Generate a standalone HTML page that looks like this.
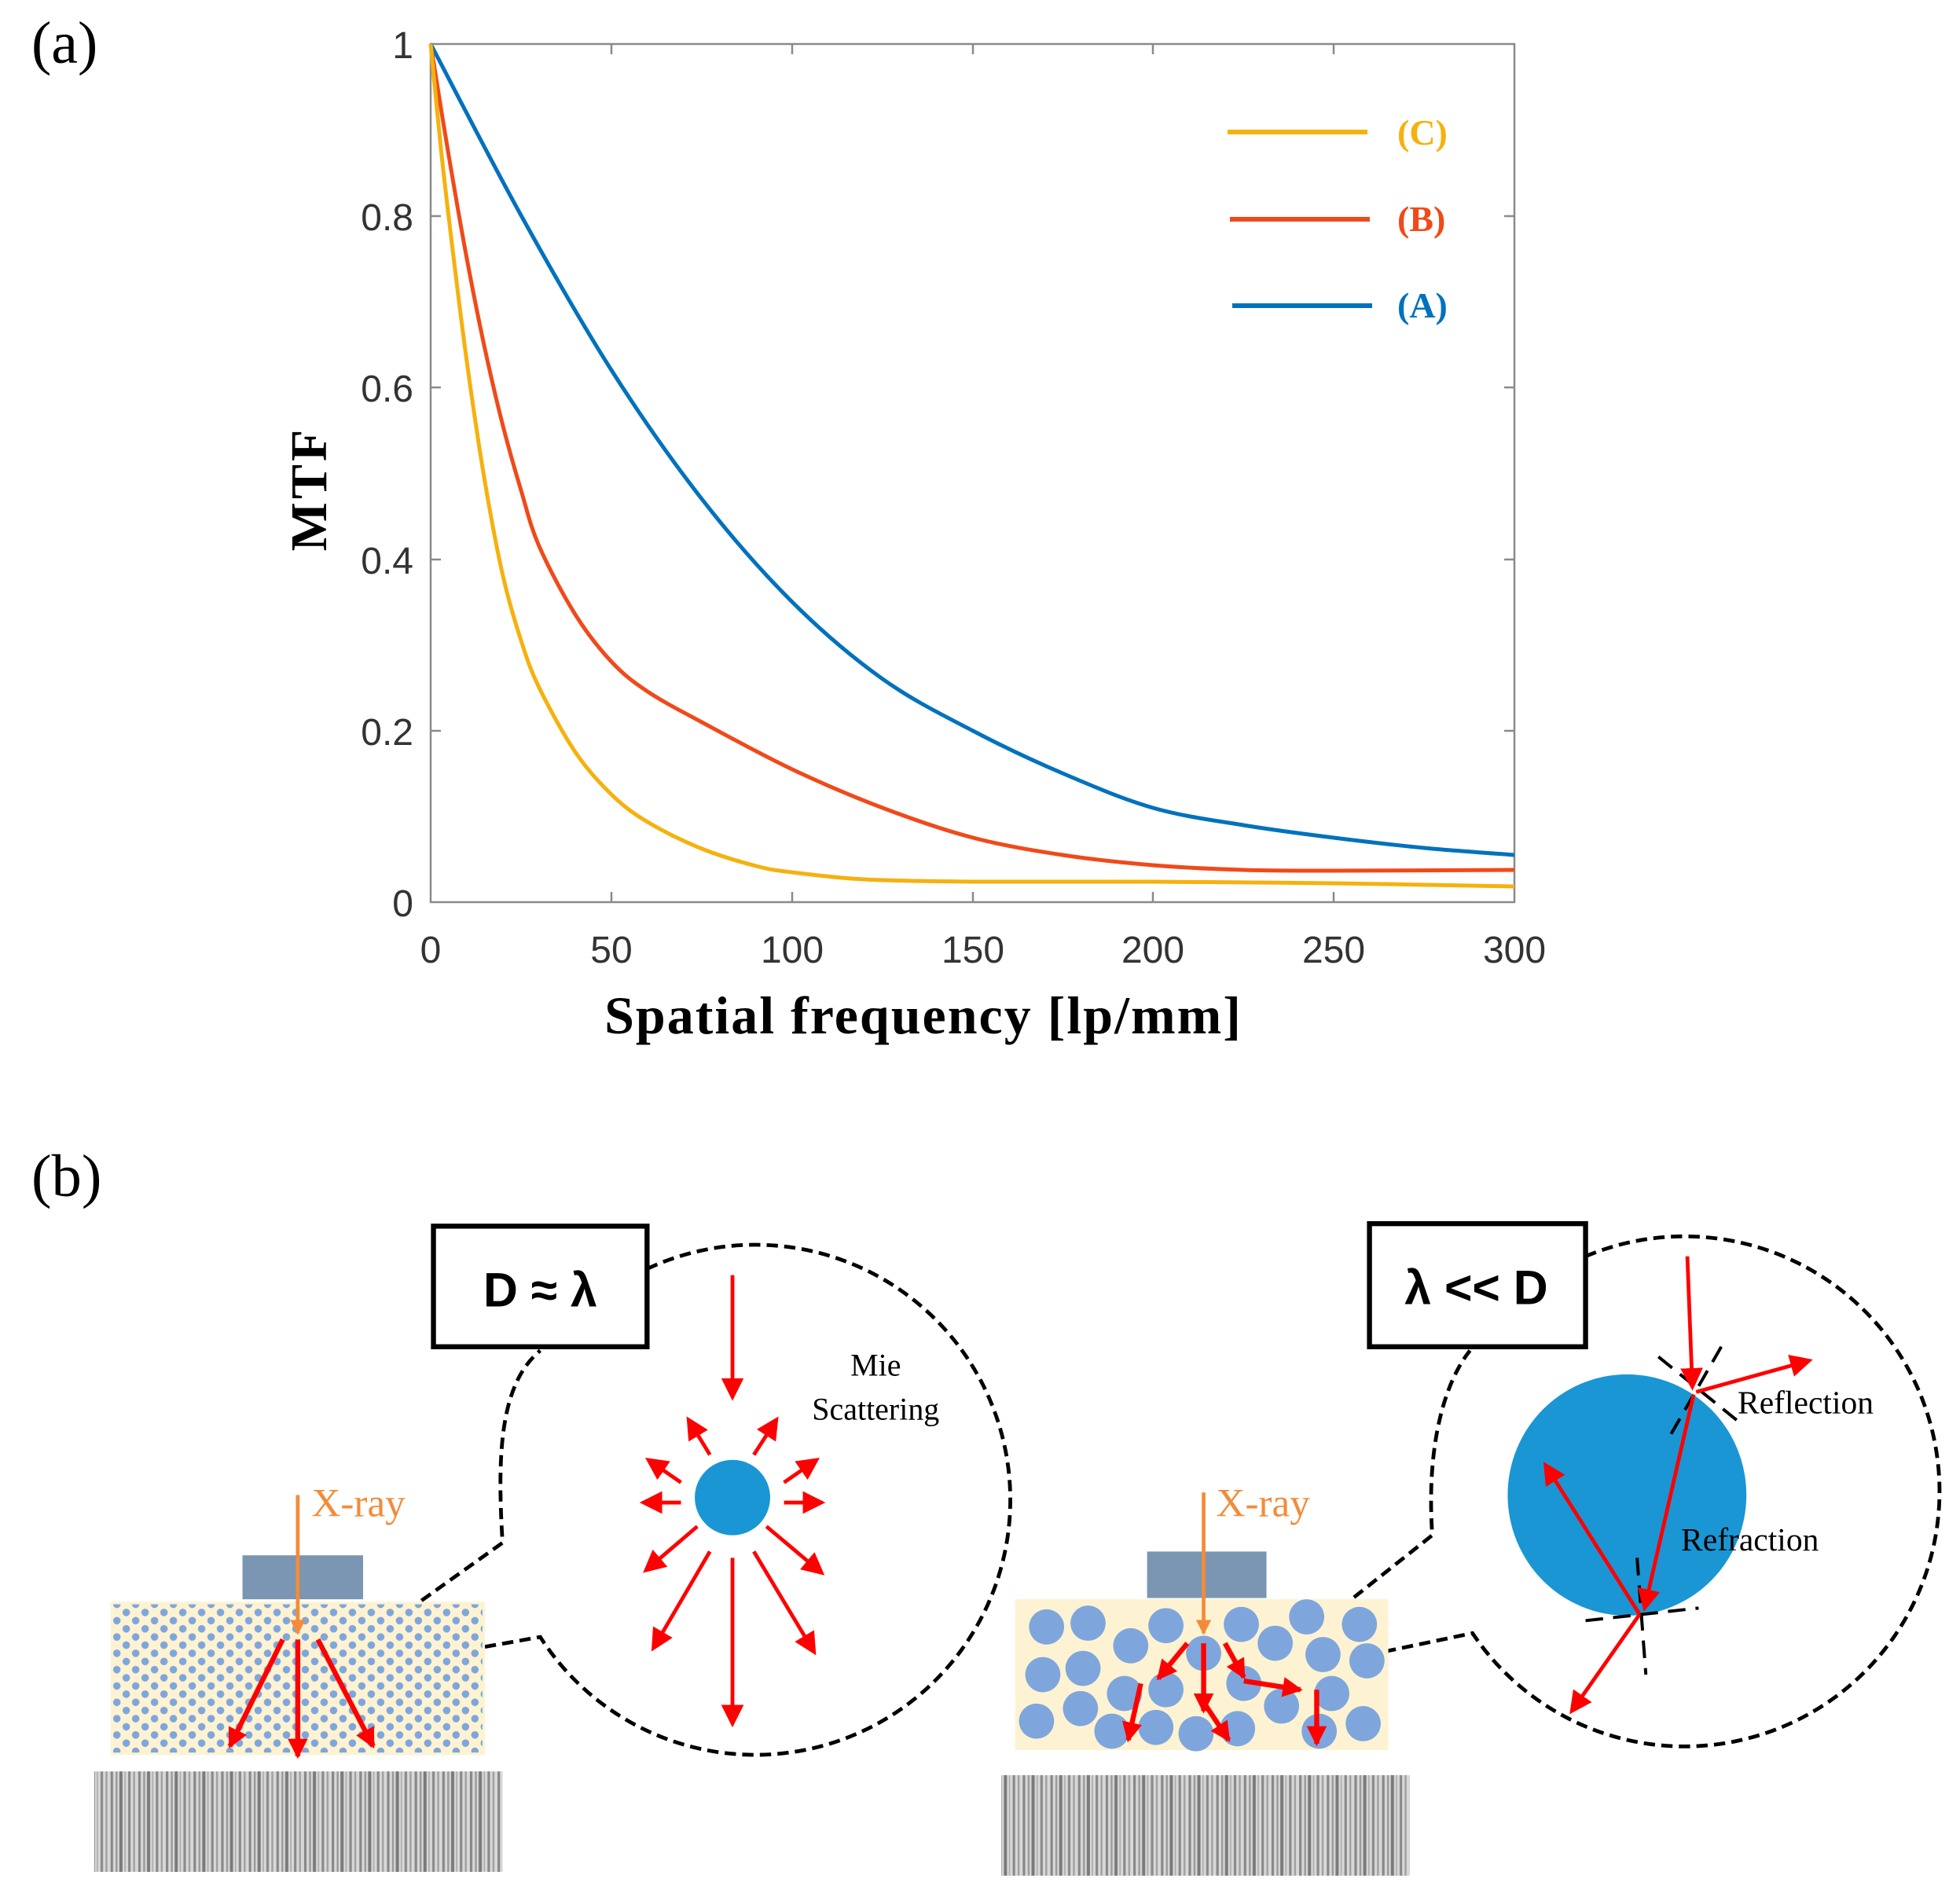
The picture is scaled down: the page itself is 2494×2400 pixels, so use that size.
<!DOCTYPE html>
<html><head><meta charset="utf-8"><style>html,body{margin:0;padding:0;background:#fff}svg{display:block}</style></head>
<body>
<svg id="s" width="2494" height="2400" viewBox="0 0 2494 2400" xmlns="http://www.w3.org/2000/svg">
<defs>
<marker id="ar" markerWidth="6" markerHeight="6" refX="5" refY="3" orient="auto" markerUnits="strokeWidth"><path d="M0,0 L6,3 L0,6 z" fill="#f00"/></marker>
<marker id="ar2" markerWidth="4" markerHeight="4" refX="3.5" refY="2" orient="auto" markerUnits="strokeWidth"><path d="M0,0 L4,2 L0,4 z" fill="#f00"/></marker>
<marker id="ao" markerWidth="4" markerHeight="4" refX="3.5" refY="2" orient="auto" markerUnits="strokeWidth"><path d="M0,0 L4,2 L0,4 z" fill="#f28c3a"/></marker>
<pattern id="dots" width="15" height="13" patternUnits="userSpaceOnUse"><circle cx="3" cy="3" r="3" fill="#7fa6dc"/><circle cx="10.5" cy="9.5" r="3" fill="#7fa6dc"/></pattern>
<pattern id="bars" width="22" height="10" patternUnits="userSpaceOnUse"><rect width="22" height="10" fill="#d8d8d8"/><rect x="0" width="2" height="10" fill="#888"/><rect x="4" width="1.5" height="10" fill="#999"/><rect x="7" width="2.5" height="10" fill="#7a7a7a"/><rect x="11" width="1" height="10" fill="#aaa"/><rect x="14" width="2" height="10" fill="#8a8a8a"/><rect x="18" width="1.5" height="10" fill="#a0a0a0"/></pattern>
</defs>

<text x="40" y="80" font-family="Liberation Serif, serif" font-size="76">(a)</text>
<rect x="548" y="56" width="1379" height="1092" fill="none" stroke="#8a8a8a" stroke-width="2.5"/>
<g stroke="#8a8a8a" stroke-width="2.5">
<path d="M778,1148v-13M1008,1148v-13M1238,1148v-13M1467,1148v-13M1697,1148v-13M778,56v13M1008,56v13M1238,56v13M1467,56v13M1697,56v13"/>
<path d="M548,930h13M548,712h13M548,493h13M548,275h13M1927,930h-13M1927,712h-13M1927,493h-13M1927,275h-13"/>
</g>
<g font-family="Liberation Sans, sans-serif" font-size="48" fill="#333" text-anchor="end">
<text x="526" y="1166">0</text><text x="526" y="948">0.2</text><text x="526" y="730">0.4</text><text x="526" y="511">0.6</text><text x="526" y="293">0.8</text><text x="526" y="74">1</text>
</g>
<g font-family="Liberation Sans, sans-serif" font-size="48" fill="#333" text-anchor="middle">
<text x="548" y="1225">0</text><text x="778" y="1225">50</text><text x="1008" y="1225">100</text><text x="1238" y="1225">150</text><text x="1467" y="1225">200</text><text x="1697" y="1225">250</text><text x="1927" y="1225">300</text>
</g>
<text x="1175" y="1315" font-family="Liberation Serif, serif" font-weight="bold" font-size="68" text-anchor="middle" letter-spacing="2">Spatial frequency [lp/mm]</text>
<text transform="translate(415,622) rotate(-90)" font-family="Liberation Serif, serif" font-weight="bold" font-size="66" text-anchor="middle" letter-spacing="4">MTF</text>
<g fill="none" stroke-width="5" stroke-linejoin="round" class="cv">
<polyline stroke="#0072bd" points="548,56 663,274 778,471 893,635 1008,766 1123,864 1238,930 1352,984 1467,1028 1582,1050 1697,1066 1812,1079 1927,1088"/>
<polyline stroke="#f04a1a" points="548,56 571,198 594,329 617,444 640,542 663,624 686,695 732,782 778,842 824,880 893,919 1008,979 1123,1028 1238,1066 1352,1088 1467,1101 1582,1107 1697,1108 1927,1107"/>
<polyline stroke="#f5b10e" points="548,56 562,198 576,318 594,460 617,613 640,733 663,815 686,875 732,957 778,1011 824,1046 893,1080 962,1102 1008,1110 1100,1119 1238,1122 1467,1122 1697,1124 1927,1128"/>
</g>
<g stroke-width="6"><line x1="1562" y1="168" x2="1740" y2="168" stroke="#f5b10e"/><line x1="1565" y1="279" x2="1743" y2="279" stroke="#f04a1a"/><line x1="1568" y1="389" x2="1746" y2="389" stroke="#0072bd"/></g>
<g font-family="Liberation Serif, serif" font-size="46" font-weight="bold">
<text x="1778" y="184" fill="#f5b10e">(C)</text><text x="1778" y="294" fill="#f04a1a">(B)</text><text x="1778" y="404" fill="#0072bd">(A)</text>
</g>

<g transform="scale(1.5987)">
<text x="25" y="952" font-family="Liberation Serif, serif" font-size="48">(b)</text>
<path d="M515,1010 A203,203 0 1 1 430,1303 L250,1335 L400,1228 C395,1150 400,1100 430,1075" fill="none" stroke="#000" stroke-width="3" stroke-dasharray="9,5"/>
<rect x="345" y="976" width="170" height="96" fill="#fff" stroke="#000" stroke-width="4"/>
<text x="430" y="1040" font-family="Liberation Sans, sans-serif" font-size="38" font-weight="bold" text-anchor="middle">D ≈ λ</text>
<circle cx="583" cy="1192" r="30" fill="#1a96d4"/>
<g stroke="#f00" stroke-width="3" marker-end="url(#ar)">
<line x1="583" y1="1015" x2="583" y2="1112"/>
<line x1="565" y1="1158" x2="548" y2="1130"/><line x1="600" y1="1158" x2="618" y2="1130"/>
<line x1="542" y1="1180" x2="516" y2="1162"/><line x1="624" y1="1180" x2="650" y2="1162"/>
<line x1="542" y1="1196" x2="512" y2="1196"/><line x1="624" y1="1196" x2="654" y2="1196"/>
<line x1="555" y1="1215" x2="514" y2="1250"/><line x1="610" y1="1215" x2="654" y2="1252"/>
<line x1="565" y1="1235" x2="520" y2="1312"/><line x1="600" y1="1235" x2="648" y2="1315"/>
<line x1="583" y1="1240" x2="583" y2="1372"/>
</g>
<g font-family="Liberation Serif, serif" font-size="25" text-anchor="middle"><text x="697" y="1095">Mie</text><text x="697" y="1130">Scattering</text></g>
<rect x="193" y="1238" width="96" height="35" fill="#7b96b2"/>
<rect x="88" y="1275" width="298" height="122" fill="#fdf3d2"/>
<rect x="90" y="1277" width="294" height="118" fill="url(#dots)"/>
<line x1="237" y1="1190" x2="237" y2="1300" stroke="#f28c3a" stroke-width="3" marker-end="url(#ao)"/>
<text x="248" y="1207" font-family="Liberation Serif, serif" font-size="32" fill="#f28c3a">X-ray</text>
<g stroke="#f00" stroke-width="4" marker-end="url(#ar2)">
<line x1="225" y1="1305" x2="183" y2="1390"/><line x1="237" y1="1305" x2="237" y2="1398"/><line x1="253" y1="1305" x2="297" y2="1390"/>
</g>
<rect x="75" y="1410" width="325" height="80" fill="url(#bars)"/>
<path d="M1262,1000 A203,203 0 1 1 1172,1300 L995,1337 L1140,1222 C1135,1150 1150,1100 1170,1075" fill="none" stroke="#000" stroke-width="3" stroke-dasharray="9,5"/>
<rect x="1090" y="974" width="172" height="98" fill="#fff" stroke="#000" stroke-width="4"/>
<text x="1175" y="1038" font-family="Liberation Sans, sans-serif" font-size="38" font-weight="bold" text-anchor="middle">λ &lt;&lt; D</text>
<ellipse cx="1295" cy="1190" rx="95" ry="96" fill="#1a96d4"/>
<g stroke="#000" stroke-width="2.5" stroke-dasharray="14,8"><line x1="1320" y1="1080" x2="1388" y2="1135"/><line x1="1370" y1="1072" x2="1328" y2="1145"/><line x1="1262" y1="1290" x2="1352" y2="1280"/><line x1="1303" y1="1240" x2="1310" y2="1333"/></g>
<g stroke="#f00" stroke-width="3" marker-end="url(#ar)">
<line x1="1343" y1="1000" x2="1347" y2="1104"/><line x1="1350" y1="1108" x2="1440" y2="1083"/><line x1="1348" y1="1110" x2="1309" y2="1280"/><line x1="1305" y1="1285" x2="1230" y2="1166"/><line x1="1305" y1="1285" x2="1251" y2="1362"/>
</g>
<g font-family="Liberation Serif, serif" font-size="26"><text x="1383" y="1125">Reflection</text><text x="1338" y="1234">Refraction</text></g>
<rect x="913" y="1235" width="95" height="37" fill="#7b96b2"/>
<rect x="808" y="1273" width="297" height="120" fill="#fdf3d2"/>
<g fill="#7fa6dc">
<circle cx="833" cy="1295" r="14"/><circle cx="866" cy="1292" r="14"/><circle cx="928" cy="1294" r="14"/><circle cx="988" cy="1293" r="14"/><circle cx="1040" cy="1287" r="14"/><circle cx="1082" cy="1293" r="14"/>
<circle cx="900" cy="1310" r="14"/><circle cx="958" cy="1316" r="14"/><circle cx="1015" cy="1308" r="14"/><circle cx="1053" cy="1317" r="14"/>
<circle cx="830" cy="1333" r="14"/><circle cx="862" cy="1328" r="14"/><circle cx="1088" cy="1322" r="14"/><circle cx="895" cy="1348" r="14"/><circle cx="928" cy="1345" r="14"/><circle cx="990" cy="1340" r="14"/><circle cx="1060" cy="1348" r="14"/>
<circle cx="860" cy="1360" r="14"/><circle cx="1020" cy="1358" r="14"/><circle cx="825" cy="1370" r="14"/><circle cx="885" cy="1378" r="14"/><circle cx="920" cy="1375" r="14"/><circle cx="952" cy="1380" r="14"/><circle cx="985" cy="1376" r="14"/><circle cx="1050" cy="1378" r="14"/><circle cx="1085" cy="1372" r="14"/>
</g>
<line x1="958" y1="1188" x2="958" y2="1300" stroke="#f28c3a" stroke-width="3" marker-end="url(#ao)"/>
<text x="968" y="1207" font-family="Liberation Serif, serif" font-size="32" fill="#f28c3a">X-ray</text>
<g stroke="#f00" stroke-width="4" marker-end="url(#ar2)">
<line x1="945" y1="1308" x2="922" y2="1336"/><line x1="958" y1="1308" x2="958" y2="1362"/><line x1="975" y1="1308" x2="990" y2="1335"/><line x1="990" y1="1338" x2="1035" y2="1345"/><line x1="908" y1="1340" x2="898" y2="1385"/><line x1="958" y1="1355" x2="978" y2="1385"/><line x1="1048" y1="1345" x2="1048" y2="1388"/>
</g>
<rect x="797" y="1413" width="325" height="80" fill="url(#bars)"/>
</g>
</svg>
<script>
(function(){
var NS="http://www.w3.org/2000/svg";
document.querySelectorAll('.cv polyline').forEach(function(pl){
 var p=pl.getAttribute('points').trim().split(/\s+/).map(function(s){return s.split(',').map(Number);});
 var d='M'+p[0][0]+','+p[0][1];
 for(var i=0;i<p.length-1;i++){
  var p0=p[i-1]||p[i],p1=p[i],p2=p[i+1],p3=p[i+2]||p2;
  var c1x=p1[0]+(p2[0]-p0[0])/6,c1y=p1[1]+(p2[1]-p0[1])/6;
  var c2x=p2[0]-(p3[0]-p1[0])/6,c2y=p2[1]-(p3[1]-p1[1])/6;
  d+=' C'+c1x.toFixed(1)+','+c1y.toFixed(1)+' '+c2x.toFixed(1)+','+c2y.toFixed(1)+' '+p2[0]+','+p2[1];
 }
 var path=document.createElementNS(NS,'path');
 path.setAttribute('d',d);path.setAttribute('stroke',pl.getAttribute('stroke'));
 pl.parentNode.replaceChild(path,pl);
});
})();
</script>
</body></html>
